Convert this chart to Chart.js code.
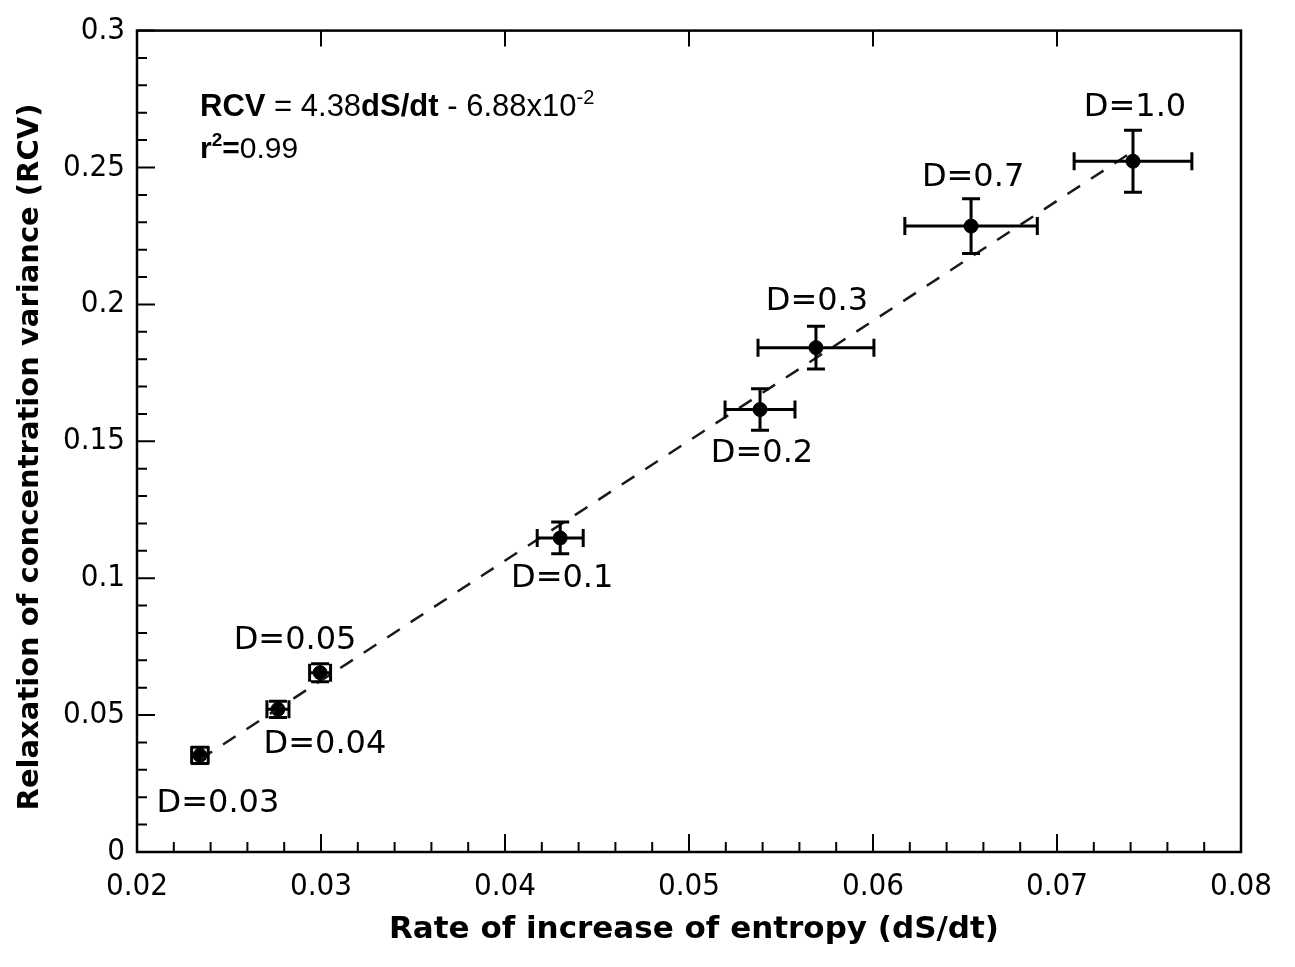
<!DOCTYPE html>
<html>
<head>
<meta charset="utf-8">
<script src="https://cdn.jsdelivr.net/npm/chart.js@4.4.1/dist/chart.umd.min.js"></script>
<style>
  html, body { margin: 0; padding: 0; background: #fff; }
  #wrap { width: 1295px; height: 967px; }
</style>
</head>
<body>
<div id="wrap"><canvas id="chart" width="1295" height="967"></canvas></div>
<script>
// diffusion runs
const labels = ["D=0.03", "D=0.04", "D=0.05", "D=0.1", "D=0.2", "D=0.3", "D=0.7", "D=1.0"];
const rate = [0.02342, 0.02766, 0.02995, 0.0430, 0.05386, 0.0569, 0.06533, 0.07413];
const rcv = [0.0353, 0.0521, 0.0655, 0.1147, 0.1616, 0.1842, 0.2286, 0.2523];
const rateErr = [0.00045, 0.0006, 0.00057, 0.00125, 0.0019, 0.00315, 0.0036, 0.0032];
const rcvErr = [0.003, 0.003, 0.0033, 0.0058, 0.0076, 0.0078, 0.010, 0.0113];

// linear fit RCV = a*dS/dt + b
const fitSlope = 4.38;
const fitIntercept = -0.0688;
const fitRange = [0.0234, 0.0741];

// where each D= label sits relative to its point (px)
const labelOffsets = [[18, 48], [47, 35], [-25, -32], [2, 41], [2, 44], [1, -46], [2, -48], [2, -54]];

const tickFont = '"DejaVu Sans Condensed", "DejaVu Sans", sans-serif';
const textFont = '"DejaVu Sans", sans-serif';

const fmt = v => String(Number(v.toFixed(3)));

const fitLine = fitRange.map(x => ({ x: x, y: fitSlope * x + fitIntercept }));
const points = rate.map((x, i) => ({ x: x, y: rcv[i] }));

const errorBars = {
  id: 'errorBars',
  afterDatasetsDraw(chart) {
    const { ctx, scales: { x, y } } = chart;
    const cap = 9;
    ctx.save();
    ctx.strokeStyle = '#000';
    ctx.lineWidth = 3;
    rate.forEach((v, i) => {
      const px = x.getPixelForValue(v), py = y.getPixelForValue(rcv[i]);
      const x0 = x.getPixelForValue(v - rateErr[i]), x1 = x.getPixelForValue(v + rateErr[i]);
      const y0 = y.getPixelForValue(rcv[i] - rcvErr[i]), y1 = y.getPixelForValue(rcv[i] + rcvErr[i]);
      ctx.beginPath();
      ctx.moveTo(x0, py); ctx.lineTo(x1, py);
      ctx.moveTo(x0, py - cap); ctx.lineTo(x0, py + cap);
      ctx.moveTo(x1, py - cap); ctx.lineTo(x1, py + cap);
      ctx.moveTo(px, y0); ctx.lineTo(px, y1);
      ctx.moveTo(px - cap, y0); ctx.lineTo(px + cap, y0);
      ctx.moveTo(px - cap, y1); ctx.lineTo(px + cap, y1);
      ctx.stroke();
    });
    ctx.restore();
  }
};

const frame = {
  id: 'frame',
  afterDraw(chart) {
    const { ctx, chartArea: a, scales: { x, y } } = chart;
    ctx.save();
    ctx.strokeStyle = '#000';
    ctx.lineWidth = 2.5;
    ctx.strokeRect(a.left, a.top, a.right - a.left, a.bottom - a.top);

    // inward ticks: x major+minor along bottom, major along top; y major+minor on left
    ctx.lineWidth = 2;
    ctx.beginPath();
    for (let k = 0; k <= 30; k++) {
      const v = x.min + k * 0.002;
      const px = x.getPixelForValue(v);
      const major = k % 5 === 0;
      ctx.moveTo(px, a.bottom); ctx.lineTo(px, a.bottom - (major ? 18 : 10));
      if (major) { ctx.moveTo(px, a.top); ctx.lineTo(px, a.top + 16); }
    }
    for (let k = 0; k <= 30; k++) {
      const v = y.min + k * 0.01;
      const py = y.getPixelForValue(v);
      const major = k % 5 === 0;
      ctx.moveTo(a.left, py); ctx.lineTo(a.left + (major ? 18 : 10), py);
    }
    ctx.stroke();

    // point labels
    ctx.fillStyle = '#000';
    ctx.font = '32px ' + textFont;
    ctx.textAlign = 'center';
    ctx.textBaseline = 'middle';
    labels.forEach((t, i) => {
      const px = x.getPixelForValue(rate[i]), py = y.getPixelForValue(rcv[i]);
      ctx.fillText(t, px + labelOffsets[i][0], py + labelOffsets[i][1]);
    });

    // axis titles
    ctx.font = 'bold 31px ' + textFont;
    ctx.fillText('Rate of increase of entropy (dS/dt)', 694, 930);
    ctx.font = 'bold 29px ' + textFont;
    ctx.save();
    ctx.translate(30, 457);
    ctx.rotate(-Math.PI / 2);
    ctx.fillText('Relaxation of concentration variance (RCV)', 0, 0);
    ctx.restore();

    // fit equation
    const runs = [
      ['RCV', 'bold 31px', 0], [' = 4.38', '31px', 0], ['dS/dt', 'bold 31px', 0],
      [' - 6.88x10', '31px', 0], ['-2', '20px', -12]
    ];
    const runs2 = [['r', 'bold 30px', 0], ['2', 'bold 19px', -12], ['=', 'bold 30px', 0], ['0.99', '30px', 0]];
    ctx.textAlign = 'left';
    ctx.textBaseline = 'alphabetic';
    [[runs, 116], [runs2, 158]].forEach(([rs, base]) => {
      let cx = 200;
      rs.forEach(([t, f, dy]) => {
        ctx.font = f + ' "Liberation Sans", Arial, sans-serif';
        ctx.fillText(t, cx, base + dy);
        cx += ctx.measureText(t).width;
      });
    });
    ctx.restore();
  }
};

new Chart(document.getElementById('chart'), {
  type: 'scatter',
  data: {
    datasets: [
      {
        type: 'line',
        data: fitLine,
        borderColor: '#1a1a1a',
        borderWidth: 2.5,
        borderDash: [15, 13],
        pointRadius: 0,
        fill: false
      },
      {
        data: points,
        backgroundColor: '#000',
        borderColor: '#000',
        pointRadius: 7,
        pointHoverRadius: 7
      }
    ]
  },
  options: {
    responsive: false,
    animation: false,
    events: [],
    layout: { autoPadding: false, padding: { top: 28, right: 54, left: 0, bottom: 0 } },
    plugins: { legend: { display: false }, tooltip: { enabled: false } },
    scales: {
      x: {
        type: 'linear',
        min: 0.02,
        max: 0.08,
        afterFit(s) { s.height = 115; },
        afterBuildTicks(s) { s.ticks = [0.02, 0.03, 0.04, 0.05, 0.06, 0.07, 0.08].map(v => ({ value: v })); },
        grid: { drawOnChartArea: false, drawTicks: false },
        border: { display: false },
        ticks: {
          padding: 16,
          maxRotation: 0,
          color: '#000',
          font: { family: tickFont, size: 31 },
          callback: v => fmt(v)
        }
      },
      y: {
        type: 'linear',
        min: 0,
        max: 0.3,
        afterFit(s) { s.width = 137; },
        afterBuildTicks(s) { s.ticks = [0, 0.05, 0.1, 0.15, 0.2, 0.25, 0.3].map(v => ({ value: v })); },
        grid: { drawOnChartArea: false, drawTicks: false },
        border: { display: false },
        ticks: {
          padding: 12,
          color: '#000',
          font: { family: tickFont, size: 31 },
          callback: v => fmt(v)
        }
      }
    }
  },
  plugins: [errorBars, frame]
});
</script>
</body>
</html>
